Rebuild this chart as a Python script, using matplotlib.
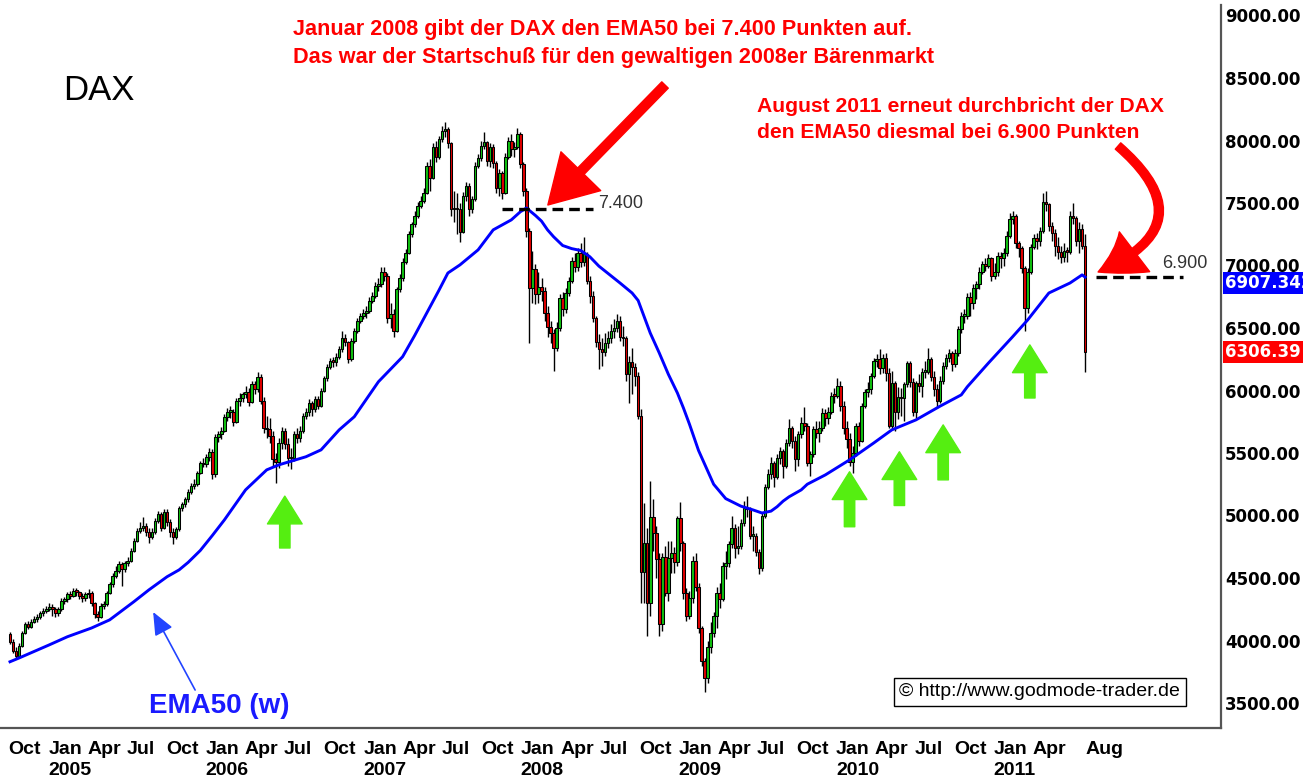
import numpy as np
import pandas as pd
import matplotlib
matplotlib.use('Agg')
import matplotlib.pyplot as plt
import matplotlib.transforms as mtransforms

plt.rcParams['font.family'] = ['Liberation Sans', 'DejaVu Sans']

# weekly DAX candles, week 0 starts Monday 4 Oct 2004
start = pd.Timestamp('2004-10-04')
first_open = 4050

close = [
    # 2004
    3990, 3920, 3880, 3960, 4060, 4130, 4110, 4150, 4170, 4190, 4220, 4240, 4256,
    # 2005
    4270, 4250, 4220, 4250, 4320, 4330, 4370, 4360, 4400, 4390, 4360, 4340, 4370,
    4380, 4300, 4210, 4190, 4280, 4290, 4380, 4450, 4520, 4560, 4610, 4570, 4620,
    4640, 4720, 4800, 4880, 4900, 4920, 4870, 4830, 4870, 4960, 5010, 4900, 5030,
    4950, 4870, 4830, 4890, 5060, 5090, 5130, 5190, 5240, 5250, 5340, 5420, 5410,
    # 2006
    5470, 5510, 5330, 5630, 5650, 5680, 5790, 5830, 5830, 5750, 5920, 5940, 5970,
    5990, 5910, 6050, 6010, 6110, 5920, 5700, 5690, 5640, 5450, 5430, 5580, 5680,
    5570, 5460, 5460, 5650, 5620, 5680, 5800, 5830, 5900, 5850, 5930, 5880, 6000,
    6100, 6190, 6240, 6230, 6270, 6330, 6420, 6390, 6250, 6400, 6480, 6560, 6597,
    # 2007
    6620, 6640, 6720, 6760, 6840, 6850, 6950, 6920, 6580, 6610, 6480, 6810, 6900,
    7030, 7100, 7250, 7330, 7400, 7480, 7520, 7580, 7800, 7700, 7950, 7870, 8010,
    8080, 8090, 7980, 7450, 7460, 7450, 7270, 7560, 7640, 7450, 7530, 7800, 7860,
    7960, 7990, 7840, 7950, 7820, 7620, 7740, 7580, 7870, 8000, 7930, 7950, 8050,
    # 2008
    7810, 7600, 7280, 6820, 6970, 6770, 6830, 6800, 6620, 6510, 6460, 6340, 6500,
    6740, 6650, 6780, 6880, 7040, 6990, 7100, 7030, 7090, 6880, 6760, 6580, 6390,
    6330, 6310, 6380, 6420, 6480, 6500, 6560, 6430, 6420, 6130, 6230, 6190, 6120,
    5800, 4550, 4780, 4300, 4990, 4860, 4650, 4130, 4670, 4380, 4660, 4700, 4630,
    # 2009
    4980, 4780, 4380, 4200, 4340, 4640, 4430, 4100, 3840, 3700, 3950, 4060, 4200,
    4380, 4330, 4600, 4620, 4770, 4900, 4740, 4760, 4940, 5060, 5050, 4840, 4840,
    4710, 4580, 5000, 5230, 5330, 5420, 5310, 5460, 5520, 5400, 5580, 5700, 5600,
    5450, 5650, 5740, 5720, 5420, 5490, 5690, 5660, 5700, 5820, 5780, 5830, 5960,
    # 2010
    5957, 6040, 5880, 5700, 5610, 5430, 5500, 5720, 5600, 5880, 5990, 6010, 6120,
    6240, 6250, 6180, 6260, 6140, 5720, 6060, 5830, 5950, 5940, 6050, 6220, 6070,
    5830, 6060, 6040, 6150, 6150, 6250, 6110, 6010, 5920, 6080, 6200, 6260, 6300,
    6210, 6300, 6490, 6600, 6600, 6750, 6700, 6820, 6850, 6950, 7010, 7000, 7060, 6914,
    # 2011
    6950, 7080, 7060, 7100, 7240, 7370, 7400, 7180, 7140, 6980, 6660, 6950, 7150,
    7220, 7200, 7280, 7510, 7490, 7320, 7260, 7160, 7110, 7070, 7120, 7110, 7400,
    7380, 7200, 7290, 7160, 6306.39,
]

high = [
    4070, 4010, 3950, 3980, 4080, 4150, 4160, 4170, 4200, 4210, 4240, 4260, 4280,
    4300, 4290, 4270, 4270, 4340, 4350, 4390, 4400, 4420, 4420, 4400, 4380, 4390,
    4410, 4400, 4310, 4240, 4300, 4320, 4400, 4470, 4540, 4600, 4640, 4630, 4640,
    4670, 4740, 4820, 4900, 4950, 4990, 4940, 4900, 4900, 4980, 5040, 5030, 5050,
    5050, 4970, 4900, 4910, 5080, 5110, 5150, 5210, 5260, 5290, 5360, 5440, 5460,
    5490, 5540, 5530, 5650, 5680, 5710, 5810, 5860, 5880, 5850, 5940, 5980, 5990,
    6040, 6020, 6080, 6080, 6150, 6130, 5950, 5800, 5780, 5680, 5500, 5620, 5710,
    5700, 5620, 5540, 5680, 5700, 5720, 5820, 5860, 5930, 5920, 5960, 5960, 6020,
    6120, 6210, 6260, 6270, 6300, 6360, 6480, 6450, 6400, 6420, 6500, 6580, 6620,
    6650, 6680, 6750, 6790, 6870, 6900, 6990, 6990, 6940, 6700, 6650, 6830, 6930,
    7060, 7130, 7280, 7350, 7440, 7510, 7560, 7620, 7830, 7850, 7980, 8000, 8040,
    8120, 8150, 8110, 7990, 7600, 7580, 7500, 7590, 7670, 7660, 7560, 7830, 7890,
    8000, 8070, 8000, 7980, 7970, 7840, 7770, 7760, 7900, 8030, 8050, 7990, 8100,
    8070, 7830, 7620, 7300, 7120, 7010, 6950, 6900, 6830, 6680, 6560, 6490, 6550,
    6770, 6790, 6820, 6910, 7070, 7100, 7140, 7180, 7230, 7110, 6920, 6800, 6600,
    6450, 6420, 6460, 6480, 6530, 6570, 6610, 6600, 6520, 6440, 6280, 6340, 6220,
    6150, 5850, 5100, 4900, 5280, 5130, 4920, 4700, 4700, 4760, 4800, 4800, 4750,
    5000, 5110, 4800, 4420, 4400, 4680, 4700, 4460, 4120, 3860, 4000, 4150, 4230,
    4430, 4460, 4630, 4720, 4800, 5000, 4930, 4920, 4970, 5120, 5160, 5070, 4920,
    4860, 4730, 5020, 5250, 5370, 5470, 5440, 5490, 5550, 5530, 5610, 5770, 5720,
    5640, 5680, 5790, 5870, 5740, 5520, 5720, 5760, 5760, 5860, 5850, 5870, 5990,
    6020, 6100, 6080, 5920, 5760, 5660, 5560, 5740, 5750, 5900, 6010, 6070, 6140,
    6260, 6290, 6330, 6290, 6300, 6180, 6160, 6080, 6030, 6020, 6070, 6240, 6240,
    6100, 6080, 6130, 6180, 6240, 6340, 6270, 6160, 6050, 6120, 6230, 6290, 6330,
    6320, 6330, 6520, 6630, 6650, 6780, 6790, 6850, 6880, 6990, 7040, 7060, 7090, 7070,
    7020, 7110, 7110, 7140, 7280, 7420, 7440, 7410, 7200, 7160, 7000, 6980, 7170,
    7250, 7260, 7310, 7580, 7600, 7500, 7350, 7290, 7230, 7160, 7180, 7150, 7440,
    7500, 7400, 7350, 7330, 7250,
]

low = [
    3970, 3900, 3850, 3860, 3950, 4050, 4090, 4100, 4140, 4150, 4170, 4200, 4220,
    4240, 4200, 4190, 4200, 4240, 4290, 4310, 4330, 4350, 4360, 4330, 4310, 4320,
    4340, 4280, 4180, 4160, 4180, 4250, 4280, 4370, 4430, 4500, 4540, 4440, 4550,
    4600, 4630, 4710, 4790, 4860, 4880, 4840, 4780, 4810, 4850, 4940, 4880, 4890,
    4920, 4830, 4770, 4810, 4880, 5040, 5070, 5110, 5170, 5210, 5240, 5330, 5390,
    5390, 5440, 5290, 5310, 5590, 5610, 5670, 5760, 5780, 5720, 5740, 5880, 5910,
    5940, 5880, 5900, 5970, 5990, 5890, 5660, 5620, 5580, 5400, 5260, 5380, 5530,
    5530, 5400, 5370, 5440, 5580, 5590, 5660, 5770, 5800, 5800, 5830, 5850, 5870,
    5990, 6080, 6170, 6190, 6200, 6250, 6310, 6360, 6220, 6240, 6380, 6460, 6540,
    6570, 6580, 6620, 6700, 6740, 6800, 6830, 6880, 6540, 6500, 6430, 6470, 6790,
    6880, 7010, 7090, 7230, 7310, 7380, 7460, 7500, 7570, 7600, 7690, 7830, 7850,
    7990, 8030, 7940, 7400, 7350, 7250, 7190, 7260, 7520, 7400, 7420, 7520, 7780,
    7840, 7930, 7800, 7790, 7780, 7580, 7560, 7530, 7570, 7850, 7880, 7870, 7930,
    7780, 7560, 7230, 6380, 6700, 6690, 6700, 6720, 6560, 6430, 6380, 6160, 6320,
    6480, 6600, 6620, 6760, 6860, 6950, 6960, 6990, 7000, 6850, 6700, 6550, 6350,
    6170, 6200, 6280, 6340, 6380, 6420, 6470, 6400, 6360, 6080, 5900, 5970, 6040,
    5770, 4300, 4300, 4040, 4200, 4720, 4500, 4040, 4080, 4360, 4320, 4540, 4540,
    4600, 4720, 4330, 4160, 4170, 4300, 4400, 4060, 3800, 3590, 3660, 3900, 4030,
    4100, 4260, 4320, 4490, 4590, 4740, 4660, 4690, 4730, 4920, 4990, 4810, 4720,
    4680, 4530, 4560, 4980, 5210, 5290, 5230, 5290, 5410, 5300, 5380, 5560, 5540,
    5360, 5400, 5620, 5680, 5400, 5320, 5470, 5620, 5590, 5680, 5720, 5730, 5810,
    5900, 5940, 5840, 5650, 5540, 5400, 5340, 5480, 5560, 5590, 5860, 5950, 5970,
    6100, 6190, 6130, 6140, 6080, 5700, 5690, 5680, 5770, 5800, 5760, 6030, 6030,
    5800, 5780, 5990, 5950, 6100, 6130, 6080, 5960, 5860, 5900, 6050, 6170, 6230,
    6160, 6190, 6280, 6460, 6540, 6570, 6600, 6650, 6730, 6810, 6930, 6960, 6980, 6880,
    6890, 6920, 6980, 7000, 7080, 7220, 7330, 7140, 7070, 6940, 6480, 6620, 6930,
    7130, 7130, 7160, 7260, 7440, 7280, 7200, 7080, 7050, 7020, 7030, 7030, 7090,
    7330, 7160, 7100, 7130, 6150,
]

# EMA50 (weekly): week index -> value
ema_week = [0, 3, 13, 19, 27, 33, 41, 46, 52, 56, 59, 63, 67, 71, 78, 85, 89, 98, 103,
            109, 114, 118, 122, 126, 130, 134, 138, 142, 145, 149, 155, 160, 166, 169,
            171, 174, 176, 178, 180, 183, 186, 189, 192, 195, 202, 206, 208, 210, 212,
            215, 218, 221, 223, 225, 228, 233, 237, 242, 246, 249, 252, 254, 256, 258,
            262, 264, 270, 278, 286, 292, 300, 308, 315, 317, 324, 332, 337, 344, 351,
            355, 356]
ema_value = [3830, 3860, 3965, 4030, 4100, 4165, 4310, 4405, 4510, 4565, 4625, 4720,
             4840, 4965, 5205, 5365, 5405, 5470, 5525, 5685, 5790, 5930, 6070, 6170,
             6270, 6440, 6620, 6800, 6940, 7005, 7125, 7285, 7365, 7430, 7460, 7400,
             7355, 7285, 7230, 7160, 7135, 7120, 7070, 6995, 6860, 6780, 6720, 6590,
             6460, 6300, 6130, 5980, 5860, 5730, 5520, 5250, 5135, 5075, 5045, 5020,
             5035, 5070, 5115, 5150, 5205, 5250, 5325, 5445, 5580, 5685, 5765, 5875,
             5965, 6030, 6220, 6430, 6565, 6780, 6860, 6925, 6907.342]

price_ticks = [3500, 4000, 4500, 5000, 5500, 6000, 6500, 7000, 7500, 8000, 8500, 9000]

# EMA break levels with the week range of the dashed marker line
break_level = [7450, 6907.342]
break_from = [163, 359.5]
break_to = [193, 388.5]
break_text = ['7.400', '6.900']

# green "support" arrows: week, tail price, tip price
support_week = [91, 278, 294.5, 309, 337.7]
support_tail = [4740, 4910, 5080, 5285, 5940]
support_tip = [5155, 5350, 5510, 5725, 6365]

note_2008 = ['Januar 2008 gibt der DAX den EMA50 bei 7.400 Punkten auf.',
             'Das war der Startschuß für den gewaltigen 2008er Bärenmarkt']
note_2011 = ['August 2011 erneut durchbricht der DAX',
             'den EMA50 diesmal bei 6.900 Punkten']

close = np.array(close, float)
high = np.array(high, float)
low = np.array(low, float)
opn = np.r_[first_open, close[:-1]]
week = np.arange(len(close))

fig = plt.figure(figsize=(13.03, 7.82), dpi=100)
ax = fig.add_axes([0.0, 54 / 782, 1221 / 1303, 723 / 782])
ax.set_xlim(-3.31, 401)
ax.set_ylim(3300, 9084)

green, red = '#10c010', '#e00000'
up = close >= opn
ax.vlines(week, low, high, color='black', lw=1.0, zorder=2)
ax.bar(week, np.maximum(np.abs(close - opn), 12), bottom=np.minimum(opn, close),
       width=0.85, color=np.where(up, green, red), edgecolor='black', linewidth=0.75,
       zorder=3)

ax.plot(ema_week, ema_value, color='#0000ff', lw=2.1, zorder=4)

# break levels
for lvl, x0, x1 in zip(break_level, break_from, break_to):
    ax.plot([x0, x1], [lvl, lvl], color='black', lw=2.4, ls=(0, (3.2, 1.8)), zorder=5,
            solid_capstyle='butt')
ax.text(194.8, 7500, break_text[0], fontsize=13, color='#333333', va='center')
ax.text(381.5, 7012, break_text[1], fontsize=13, color='#333333', va='center')

# x axis: quarter months, last label Aug 2011; year written under each January
tick_dates = list(pd.date_range('2004-10-01', '2011-04-01', freq='QS')) + [pd.Timestamp('2011-08-01')]
tick_pos = [(d - start).days / 7 for d in tick_dates]
ax.set_xticks(tick_pos)
ax.set_xticklabels([d.strftime('%b') for d in tick_dates], ha='left', fontweight='bold',
                   fontsize=14, va='top')
ax.tick_params(axis='x', length=0, pad=9)
year_tf = mtransforms.blended_transform_factory(ax.transData, ax.transAxes)
for d, p in zip(tick_dates, tick_pos):
    if d.month == 1:
        ax.text(p, -0.0475, d.strftime('%Y'), transform=year_tf, ha='left', va='top',
                fontweight='bold', fontsize=14, clip_on=False)

ax.yaxis.tick_right()
ax.set_yticks(price_ticks)
ax.set_yticklabels([f'{v:.2f}' for v in price_ticks], fontweight='bold', fontsize=12,
                   family='DejaVu Sans')
ax.tick_params(axis='y', length=0, pad=3)

for s in ['top', 'left']:
    ax.spines[s].set_visible(False)
for s in ['bottom', 'right']:
    ax.spines[s].set_color('#555555')
    ax.spines[s].set_linewidth(1.6)

# last value boxes on the price scale
ax.annotate(f'{ema_value[-1]:.3f}', xy=(1, ema_value[-1]), xycoords=('axes fraction', 'data'),
            xytext=(3, -4), textcoords='offset points', ha='left', va='center',
            fontsize=12, fontweight='bold', family='DejaVu Sans', color='white',
            bbox=dict(facecolor='#0000ff', edgecolor='none', pad=1.5), annotation_clip=False,
            zorder=10)
ax.annotate(f'{close[-1]:.2f}', xy=(1, close[-1]), xycoords=('axes fraction', 'data'),
            xytext=(3, 0), textcoords='offset points', ha='left', va='center',
            fontsize=12, fontweight='bold', family='DejaVu Sans', color='white',
            bbox=dict(facecolor='#ff0000', edgecolor='none', pad=1.5), annotation_clip=False,
            zorder=10)

# texts
ax.text(17.5, 8404, 'DAX', fontsize=25, va='center', ha='left')
ax.text(69.2, 3476, 'EMA50 (w)', fontsize=20, fontweight='bold', color='#1a1aff',
        ha='center', va='center')
for txt, y in zip(note_2008, [8884, 8668]):
    ax.text(93.7, y, txt, fontsize=15.6, fontweight='bold', color='#ff0000', va='center')
for txt, y in zip(note_2011, [8268, 8060]):
    ax.text(247.4, y, txt, fontsize=15.2, fontweight='bold', color='#ff0000', va='center')
ax.text(341, 3588, '© http://www.godmode-trader.de', fontsize=14, ha='center',
        va='center', bbox=dict(facecolor='white', edgecolor='black', lw=1.0, pad=4))

# arrows
ax.annotate('', xy=(178.1, 7484), xytext=(216.9, 8444),
            arrowprops=dict(arrowstyle='simple,head_length=3.4,head_width=4.0,tail_width=0.65',
                            mutation_scale=10, color='#ff0000', shrinkA=0, shrinkB=0))
ax.annotate('', xy=(360.3, 6948), xytext=(366.9, 7956),
            arrowprops=dict(arrowstyle='simple,head_length=3.0,head_width=3.6,tail_width=0.6',
                            mutation_scale=10, color='#ff0000', shrinkA=0, shrinkB=0,
                            connectionstyle='arc3,rad=-0.8'))
for wk, t0, t1 in zip(support_week, support_tail, support_tip):
    ax.annotate('', xy=(wk, t1), xytext=(wk, t0),
                arrowprops=dict(arrowstyle='simple,head_length=2.0,head_width=2.5,tail_width=0.75',
                                mutation_scale=10, color='#55ee11', shrinkA=0, shrinkB=0))
ax.annotate('', xy=(47.4, 4228), xytext=(61.3, 3604),
            arrowprops=dict(arrowstyle='-|>,head_length=0.7,head_width=0.3', mutation_scale=20,
                            color='#2244ff', lw=1.2, shrinkA=0, shrinkB=0))

fig.savefig('out.png', dpi=100, facecolor='white')
